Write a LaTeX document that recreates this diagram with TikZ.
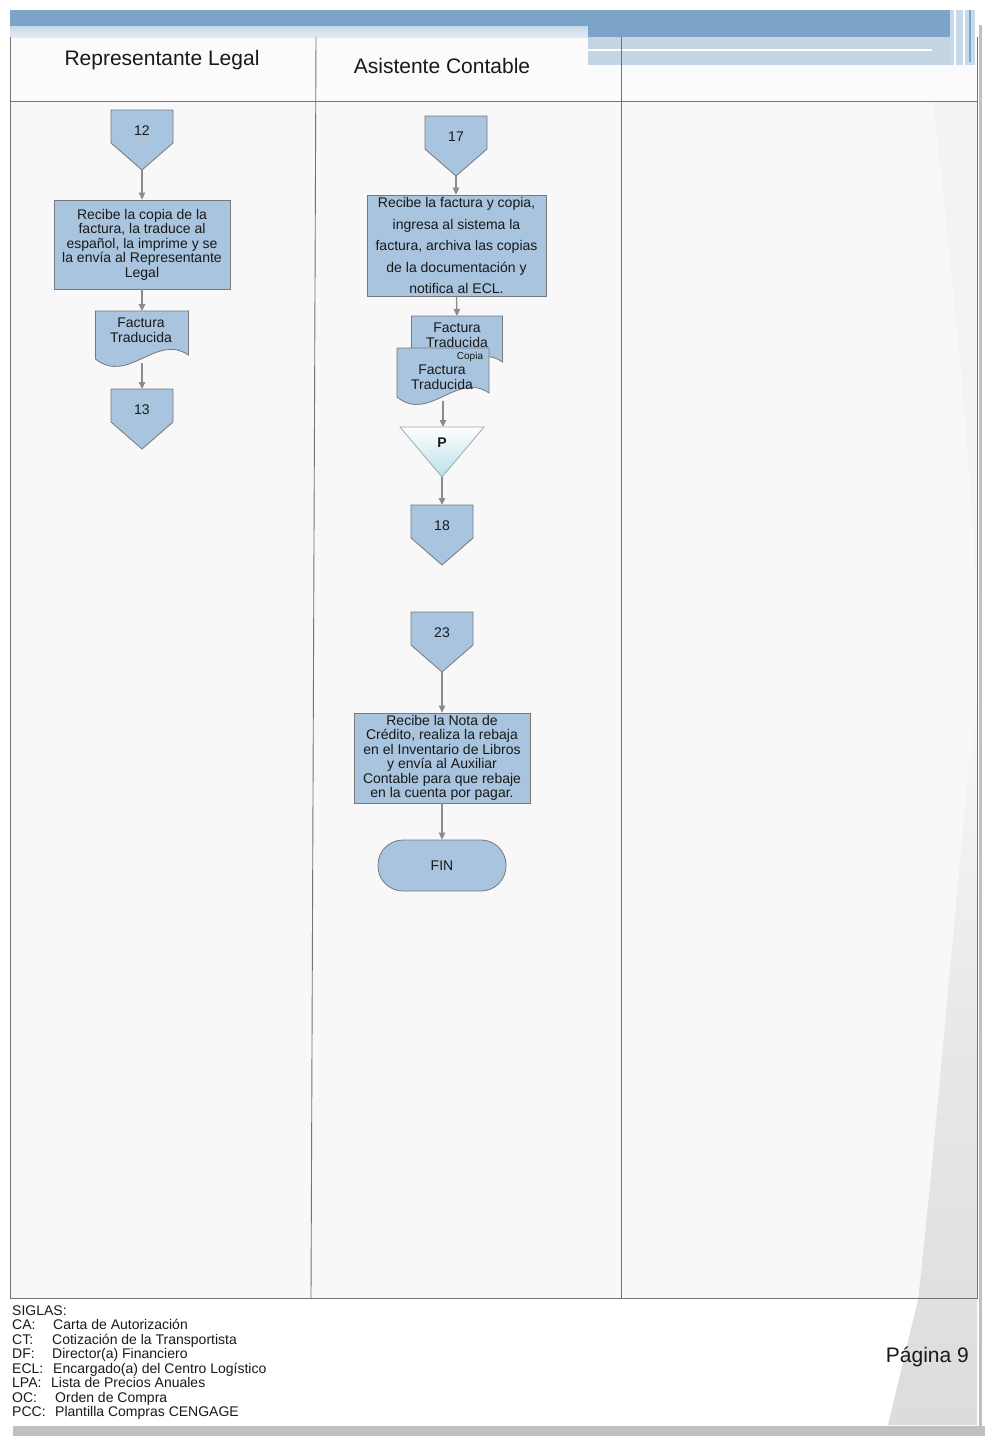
\documentclass[tikz,border=0pt]{standalone}
\usepackage{fontspec}
\setmainfont{Liberation Sans}
\usetikzlibrary{arrows.meta}
\definecolor{shapefill}{RGB}{168,196,222}
\definecolor{shapeline}{RGB}{120,120,120}
\definecolor{arrowc}{RGB}{140,140,140}
\definecolor{framec}{RGB}{115,115,115}
\definecolor{bandd}{RGB}{124,163,200}
\definecolor{bandl}{RGB}{200,218,234}
\definecolor{bandm}{RGB}{196,212,226}
\definecolor{bandw}{RGB}{226,236,245}
\definecolor{lanebg}{RGB}{248,248,248}
\definecolor{headbg}{RGB}{251,251,251}
\definecolor{shadec}{RGB}{220,220,220}
\definecolor{shadel}{RGB}{243,243,243}
\definecolor{edgegray}{RGB}{192,192,192}
\definecolor{txtc}{RGB}{25,25,25}
\definecolor{trilow}{RGB}{186,222,232}
\definecolor{triline}{RGB}{150,172,186}

\newcommand\offpg[4]{% name, cx, ytop, label
  \path[draw=shapeline, fill=shapefill, line width=0.8pt]
    (#2-31,#3) -- (#2+31,#3) -- (#2+31,#3+33) -- (#2,#3+60) -- (#2-31,#3+33) -- cycle;
  \node[ghost, minimum width=62pt, minimum height=60pt] (#1) at (#2,#3+30) {};
  \node[txt] (#1t) at (#2,#3+21) {#4};
}
\newcommand\docshp[5]{% name, cx, ytop, w, h
  \path[draw=shapeline, fill=shapefill, line width=0.8pt]
    (#2-#4/2,#3) -- (#2+#4/2,#3) -- (#2+#4/2,#3+#5-4)
    .. controls (#2+#4*0.15,#3+#5-26) and (#2-#4*0.15,#3+#5+26) .. (#2-#4/2,#3+#5) -- cycle;
  \node[ghost, minimum width=#4pt, minimum height=#5pt+4pt] (#1) at (#2,#3+#5/2+2) {};
}

\begin{document}
\begin{tikzpicture}[x=1pt,y=-1pt,
  ghost/.style={inner sep=0pt, outer sep=0pt, draw=none},
  txt/.style={text=txtc, inner sep=0pt, align=center, font=\fontsize{14}{14.5}\selectfont},
  hdr/.style={text=txtc, inner sep=0pt, font=\fontsize{21}{24}\selectfont},
  pbox/.style={draw=shapeline, fill=shapefill, line width=0.8pt, inner sep=0pt, align=center,
    text=txtc, font=\fontsize{14}{14.5}\selectfont},
  leg/.style={text=txtc, inner sep=0pt, anchor=base west, font=\fontsize{14}{14.5}\selectfont},
  arr/.style={draw=arrowc, line width=1.2pt, -{Triangle[length=7pt,width=6.5pt,fill=arrowc]}}
]
\useasboundingbox (0,0) rectangle (985,1436);
\fill[white] (0,0) rectangle (985,1436);
% lane backgrounds
\fill[lanebg] (10,37) rectangle (977,1298);
\fill[headbg] (10,37) rectangle (977,101);
% right-hand page shading
\fill[shadel] (933,101) .. controls (950,250) and (968,420) .. (977,600) -- (977,101) -- cycle;
\shade[top color=lanebg, bottom color=shadec, middle color=shadec!60!lanebg]
  (977,690) .. controls (955,900) and (935,1150) .. (918,1300) -- (888,1425) -- (977,1425) -- cycle;
% top band
\fill[bandd] (10,10) rectangle (975,26);
\shade[top color=bandl, bottom color=bandw] (10,26) rectangle (588,37);
\fill[bandd] (588,26) rectangle (962,37);
\fill[bandm] (588,37) rectangle (962,65);
\draw[white, line width=2.8pt] (588,50) -- (932,50);
\fill[bandl] (950,10) rectangle (975,65);
\draw[white, line width=1.5pt] (955,10) -- (955,65);
\draw[white, line width=1.2pt] (964,10) -- (964,65);
\draw[bandd, line width=1.2pt] (970,10) -- (970,62);
% frame of swimlanes
\draw[framec, line width=0.9pt] (10,37) -- (10,1298) -- (977,1298) -- (977,37);
\draw[framec, line width=0.9pt] (10,101) -- (977,101);
\draw[framec, line width=0.9pt] (316,37) -- (311,1298);
\draw[framec, line width=0.9pt] (621,37) -- (621,1298);
% page edges
\fill[edgegray] (979,25) rectangle (982,1436);
\fill[edgegray] (13,1426) rectangle (985,1436);

% headers
\node[hdr] (h1) at (162,60) {Representante Legal};
\node[hdr] (h2) at (442,66) {Asistente Contable};

% ---- Representante Legal lane
\offpg{c12}{142}{110}{12}
\node[pbox, minimum width=176pt, minimum height=89pt] (b1) at (142,244.5)
  {Recibe la copia de la\\factura, la traduce al\\español, la imprime y se\\la envía al Representante\\Legal};
\docshp{d1}{142}{311}{93}{48}
\node[txt] (d1t) at (141,330) {Factura\\Traducida};
\offpg{c13}{142}{389}{13}

\draw[arr] (c12.south) -- (b1.north);
\draw[arr] (b1.south) -- (d1.north);
\draw[arr] (d1.south) -- (c13.north);

% ---- Asistente Contable lane
\offpg{c17}{456}{116}{17}
\node[pbox, minimum width=179pt, minimum height=101pt, font=\fontsize{14}{21.5}\selectfont] (b2) at (456.5,245.5)
  {Recibe la factura y copia,\\ingresa al sistema la\\factura, archiva las copias\\de la documentación y\\notifica al ECL.};
\docshp{d2}{457}{316}{91}{50}
\node[txt] (d2t) at (457,335) {Factura\\Traducida};
\docshp{d3}{443}{348}{92}{49}
\node[txt, font=\fontsize{10}{11}\selectfont] (d3c) at (470,357) {Copia};
\node[txt] (d3t) at (442,377) {Factura\\Traducida};

\shade[top color=white, bottom color=trilow] (400,427) -- (484,427) -- (442,477) -- cycle;
\draw[triline, line width=0.8pt] (400,427) -- (484,427) -- (442,477) -- cycle;
\node[ghost, minimum width=84pt, minimum height=50pt] (tri) at (442,452) {};
\node[txt, font=\bfseries\fontsize{14}{15}\selectfont] (trit) at (442,443) {P};

\offpg{c18}{442}{505}{18}
\offpg{c23}{442}{612}{23}
\node[pbox, minimum width=176pt, minimum height=90pt] (b3) at (442,758)
  {Recibe la Nota de\\Crédito, realiza la rebaja\\en el Inventario de Libros\\y envía al Auxiliar\\Contable para que rebaje\\en la cuenta por pagar.};
\node[pbox, rounded corners=25pt, minimum width=128pt, minimum height=51pt] (fin) at (442,865.5) {FIN};

\draw[arr] (c17.south) -- (c17.south |- b2.north);
\draw[arr] (b2.south) -- (d2.north);
\draw[arr] (d3.south) -- (d3.south |- tri.north);
\draw[arr] (tri.south) -- (c18.north);
\draw[arr] (c23.south) -- (b3.north);
\draw[arr] (b3.south) -- (fin.north);

% ---- legend
\node[leg] (s0) at (12,1315) {SIGLAS:};
\node[leg] (s1a) at (12,1329.5) {CA:};   \node[leg] (s1b) at (53,1329.5) {Carta de Autorización};
\node[leg] (s2a) at (12,1344) {CT:};     \node[leg] (s2b) at (52,1344) {Cotización de la Transportista};
\node[leg] (s3a) at (12,1358.5) {DF:};   \node[leg] (s3b) at (52,1358.5) {Director(a) Financiero};
\node[leg] (s4a) at (12,1373) {ECL:};    \node[leg] (s4b) at (53,1373) {Encargado(a) del Centro Logístico};
\node[leg] (s5a) at (12,1387.5) {LPA:};  \node[leg] (s5b) at (51,1387.5) {Lista de Precios Anuales};
\node[leg] (s6a) at (12,1402) {OC:};     \node[leg] (s6b) at (55,1402) {Orden de Compra};
\node[leg] (s7a) at (12,1416.5) {PCC:};  \node[leg] (s7b) at (55,1416.5) {Plantilla Compras CENGAGE};

\node[hdr, anchor=base east] (pg) at (969,1362) {Página 9};
\end{tikzpicture}
\end{document}
